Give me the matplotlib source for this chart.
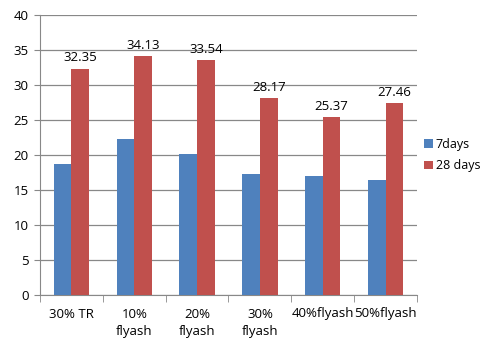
import numpy as np
from matplotlib import pyplot as plt

categories = ['30% TR', '10%\nflyash', '20%\nflyash', '30%\nflyash', '40%flyash', '50%flyash']
days7 = [18.67, 22.3, 20.2, 17.3, 17.0, 16.4]
days28 = [32.35, 34.13, 33.54, 28.17, 25.37, 27.46]
labels28 = ['32.35', '34.13', '33.54', '28.17', '25.37', '27.46']

plt.rcParams['font.family'] = ['Open Sans', 'DejaVu Sans']
plt.rcParams['font.size'] = 9.5

fig = plt.figure(figsize=(4.89, 3.40), dpi=100)
ax = fig.add_axes([40/489, 1 - 295/340, (417-40)/489, 280/340])

x = np.arange(len(categories))
w = 0.28
b1 = ax.bar(x - w/2, days7, w, color='#4f81bd', label='7days', zorder=3)
b2 = ax.bar(x + w/2, days28, w, color='#c0504d', label='28 days', zorder=3)
ax.bar_label(b2, labels=labels28, padding=3)

ax.set_xlim(-0.5, len(categories) - 0.5)
ax.set_ylim(0, 40)
ax.set_yticks(range(0, 41, 5))
ax.yaxis.grid(True, color='#888888', linewidth=0.9, zorder=0)

ax.set_xticks(x)
ax.set_xticklabels(categories, linespacing=1.45)
ax.set_xticks(np.arange(-0.5, len(categories), 1), minor=True)
ax.tick_params(axis='x', which='major', length=0, pad=9)
ax.tick_params(axis='x', which='minor', length=5, color='#888888')
ax.tick_params(axis='y', length=4, color='#888888', pad=4)

for s in ['top', 'right']:
    ax.spines[s].set_visible(False)
for s in ['left', 'bottom']:
    ax.spines[s].set_color('#888888')

ax.legend(loc='center left', bbox_to_anchor=(0.995, 0.5), frameon=False, fontsize=9,
          handlelength=0.7, handleheight=0.7, handletextpad=0.25, labelspacing=0.7,
          borderaxespad=0.3)

plt.savefig('out.png', dpi=100)
